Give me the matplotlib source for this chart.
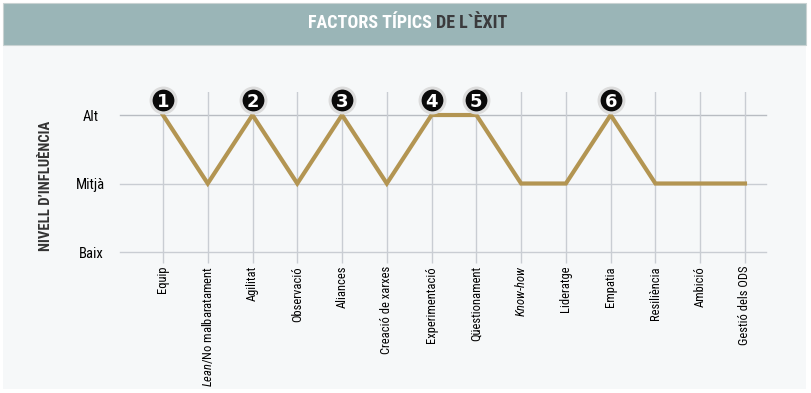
import matplotlib
matplotlib.use("Agg")
import matplotlib.pyplot as plt
from matplotlib.patches import Rectangle
from matplotlib.transforms import offset_copy

# data
factors = ["Equip", r"$\mathit{Lean}$/No malbaratament", "Agilitat", "Observació", "Aliances",
           "Creació de xarxes", "Experimentació", "Qüestionament", r"$\mathit{Know}$-$\mathit{how}$",
           "Lideratge", "Empatia", "Resiliència", "Ambició", "Gestió dels ODS"]
levels = [3, 2, 3, 2, 3, 2, 3, 3, 2, 2, 3, 2, 2, 2]
level_names = ["Baix", "Mitjà", "Alt"]
level_vals = [1, 2, 3]
top_idx = [0, 2, 4, 6, 7, 10]
top_nums = ["1", "2", "3", "4", "5", "6"]

COND = ["Roboto Condensed", "Liberation Sans Narrow", "Roboto", "DejaVu Sans"]
GOLD = "#b39552"
GRID = "#c9cdd3"

plt.rcParams["mathtext.fontset"] = "custom"
plt.rcParams["mathtext.rm"] = "Roboto Condensed"
plt.rcParams["mathtext.it"] = "Roboto Condensed:italic"

W, H = 811, 393
fig = plt.figure(figsize=(W / 100, H / 100), dpi=100, facecolor="white")

def fx(px):
    return px / W

def fy(py):
    return 1 - py / H

# panel + header band
fig.patches.append(Rectangle((fx(3), fy(389)), fx(803), 386 / H, transform=fig.transFigure,
                             fc="#f6f8f9", ec="none", zorder=-3))
fig.patches.append(Rectangle((fx(3), fy(45)), fx(803), 42 / H, transform=fig.transFigure,
                             fc="#9ab5b7", ec="#c9d3d3", lw=0.8, zorder=-2))

fig.text(fx(432), fy(23), "FACTORS TÍPICS", ha="right", va="center", color="white",
         fontsize=13, fontweight="bold", family=COND)
fig.text(fx(436), fy(23), "DE L`ÈXIT", ha="left", va="center", color="#3b3b3d",
         fontsize=13, fontweight="bold", family=COND)

fig.text(fx(46), fy(186), "NIVELL D’INFLUÈNCIA", rotation=90, ha="center", va="center",
         color="#333333", fontsize=10.5, fontweight="bold", family=COND)

ax = fig.add_axes([fx(120), fy(252), fx(646), 160 / H])
ax.set_facecolor("none")
x = list(range(len(factors)))

for v in level_vals:
    ax.axhline(v, color="#b8bcc2" if v == 3 else GRID, lw=1, zorder=1, clip_on=False)
for i in x:
    ax.axvline(i, color=GRID, lw=1, zorder=1)

ax.plot(x, levels, color=GOLD, lw=3, solid_joinstyle="miter", zorder=3)

# numbered badges sit just above the peaks
trans = offset_copy(ax.transData, fig=fig, y=11, units="points")
tx = [x[i] for i in top_idx]
ty = [levels[i] for i in top_idx]
ax.scatter(tx, ty, s=320, c="#0a0a0a", edgecolors="#dcdcdc", linewidths=2.2,
           transform=trans, zorder=5, clip_on=False)
for xi, yi, n in zip(tx, ty, top_nums):
    ax.text(xi, yi, n, transform=trans, ha="center", va="center_baseline", color="white",
            fontsize=13, fontweight="bold", family="DejaVu Sans", zorder=6, clip_on=False)

ax.set_xlim(-0.96, 13.47)
ax.set_ylim(1, 3.336)
ax.set_xticks(x)
ax.set_xticklabels(factors, rotation=90, ha="center", va="top", family=COND, fontsize=9,
                   color="black")
ax.set_yticks(level_vals)
ax.set_yticklabels(level_names, family=COND, fontsize=10.5, ha="center", color="black")
ax.tick_params(axis="x", length=8, color=GRID, width=1, pad=2)
ax.tick_params(axis="y", length=0, pad=21)
for s in ax.spines.values():
    s.set_visible(False)

fig.savefig("out.png", dpi=100, facecolor="white")
